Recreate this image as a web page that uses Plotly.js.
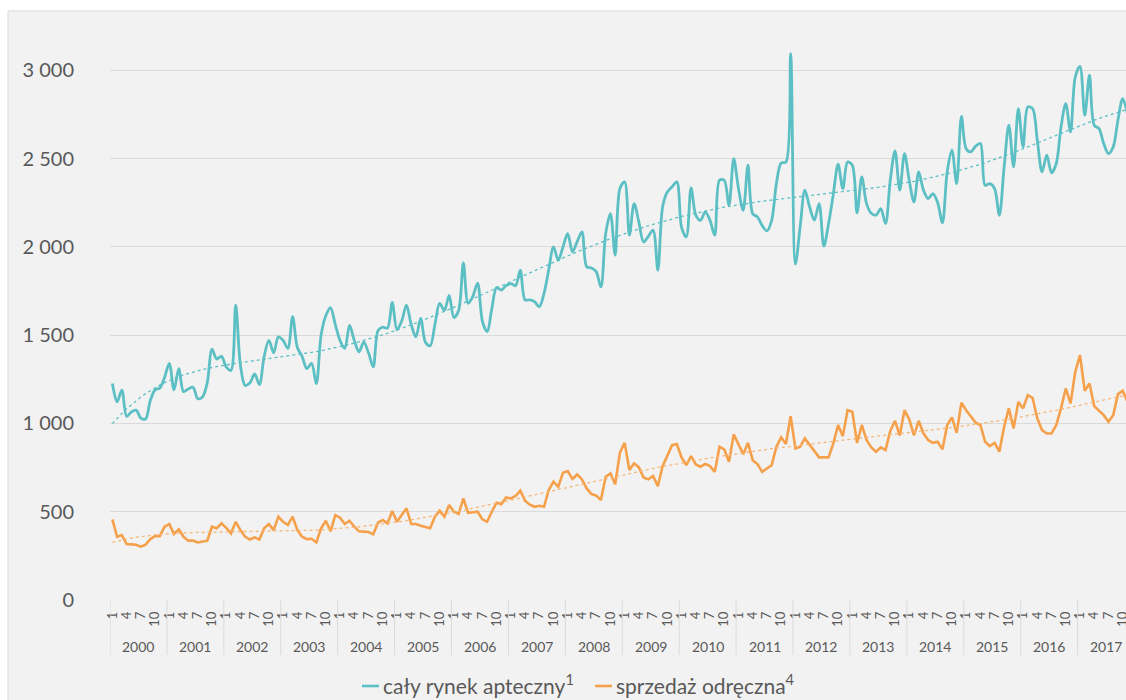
<!DOCTYPE html>
<html>
<head>
<meta charset="utf-8">
<script src="https://cdn.plot.ly/plotly-3.0.1.min.js"></script>
<style>
  html, body { margin: 0; padding: 0; background: #ffffff; overflow: hidden; }
  #chart { width: 1126px; height: 700px; }
</style>
</head>
<body>
<div id="chart"></div>
<script>
// ---------- data ----------
const years = [2000, 2001, 2002, 2003, 2004, 2005, 2006, 2007, 2008,
               2009, 2010, 2011, 2012, 2013, 2014, 2015, 2016, 2017];
const tickMonths = [1, 4, 7, 10];

const seriesNames = ['cały rynek apteczny', 'sprzedaż odręczna'];
const seriesNotes = ['1', '4'];

// cały rynek apteczny (monthly, from Jan 2000)
const caly = [
  1226, 1122, 1189, 1040, 1065, 1075, 1030, 1025, 1130, 1190, 1200, 1260,
  1340, 1190, 1310, 1180, 1195, 1205, 1140, 1150, 1230, 1420, 1365, 1380,
  1320, 1300, 1670, 1330, 1215, 1230, 1280, 1220, 1380, 1470, 1400, 1490,
  1470, 1425, 1605, 1430, 1380, 1310, 1340, 1225, 1500, 1610, 1655, 1560,
  1470, 1425, 1555, 1470, 1405, 1460, 1400, 1320, 1525, 1545, 1540, 1685,
  1530, 1580, 1670, 1560, 1490, 1595, 1460, 1440, 1560, 1680, 1640, 1725,
  1600, 1640, 1909, 1680, 1720, 1795, 1580, 1520, 1650, 1770, 1755, 1780,
  1792, 1780, 1868, 1700, 1700, 1690, 1660, 1736, 1870, 2000, 1924, 2000,
  2075, 1972, 2030, 2085, 1887, 1880, 1860, 1773, 2075, 2188, 1953, 2330,
  2368, 2066, 2245, 2140, 2028, 2060, 2094, 1868, 2226, 2311, 2340, 2368,
  2110, 2056, 2334, 2180, 2150, 2198, 2150, 2066, 2377, 2377, 2236, 2500,
  2330, 2207, 2462, 2188, 2170, 2120, 2090, 2150, 2360, 2475, 2480, 3094,
  1902, 2113, 2321, 2226, 2151, 2245, 2004, 2132, 2300, 2468, 2330, 2481,
  2462, 2192, 2396, 2245, 2190, 2180, 2217, 2132, 2377, 2543, 2321, 2528,
  2377, 2254, 2424, 2321, 2273, 2302, 2250, 2136, 2424, 2547, 2358, 2739,
  2556, 2538, 2570, 2585, 2349, 2358, 2330, 2179, 2450, 2689, 2453, 2783,
  2566, 2792, 2783, 2604, 2424, 2519, 2419, 2472, 2679, 2811, 2651, 2962,
  3022, 2745, 2972, 2689, 2670, 2585, 2528, 2566, 2717, 2840, 2755
];

// sprzedaż odręczna (monthly, from Jan 2000)
const odreczna = [
  457, 358, 368, 317, 315, 313, 302, 313, 345, 362, 362, 415,
  430, 374, 400, 358, 336, 336, 326, 330, 336, 415, 406, 434,
  409, 377, 443, 396, 358, 343, 355, 343, 406, 430, 396, 472,
  443, 425, 472, 396, 358, 345, 347, 326, 406, 449, 389, 481,
  466, 430, 449, 415, 389, 387, 385, 372, 438, 453, 434, 504,
  443, 481, 519, 430, 430, 420, 415, 406, 472, 506, 472, 538,
  500, 487, 575, 494, 497, 500, 457, 443, 500, 551, 543, 581,
  575, 589, 619, 562, 540, 528, 534, 528, 623, 670, 641, 721,
  730, 685, 711, 683, 632, 600, 591, 566, 698, 717, 655, 834,
  890, 736, 774, 751, 694, 683, 702, 645, 758, 815, 877, 883,
  808, 764, 815, 768, 755, 770, 758, 726, 868, 853, 783, 938,
  883, 826, 890, 792, 770, 726, 745, 764, 868, 921, 883, 1041,
  858, 868, 915, 880, 845, 808, 808, 808, 887, 991, 928, 1075,
  1066, 890, 991, 906, 864, 840, 864, 849, 958, 1015, 932, 1075,
  1023, 932, 1015, 943, 906, 890, 896, 853, 991, 1034, 947, 1117,
  1075, 1041, 1004, 991, 896, 872, 890, 840, 981, 1085, 972, 1122,
  1085, 1160, 1145, 1028, 962, 943, 943, 991, 1085, 1198, 1113, 1292,
  1387, 1185, 1226, 1098, 1071, 1047, 1009, 1047, 1166, 1185, 1122
];

// ---------- helpers ----------
const monthIdx = caly.map((_, i) => i);   // months since Jan 2000

// least-squares polynomial trend (like a spreadsheet polynomial trendline)
function polyTrend(xs, ys, deg) {
  const c = (xs[xs.length - 1] + xs[0]) / 2, s = (xs[xs.length - 1] - xs[0]) / 2;
  const t = xs.map(v => (v - c) / s);
  const n = deg + 1;
  const A = Array.from({ length: n }, () => new Array(n + 1).fill(0));
  for (let k = 0; k < t.length; k++) {
    const p = [1];
    for (let j = 1; j < n; j++) p.push(p[j - 1] * t[k]);
    for (let i = 0; i < n; i++) {
      for (let j = 0; j < n; j++) A[i][j] += p[i] * p[j];
      A[i][n] += p[i] * ys[k];
    }
  }
  for (let i = 0; i < n; i++) {
    let m = i;
    for (let r = i + 1; r < n; r++) if (Math.abs(A[r][i]) > Math.abs(A[m][i])) m = r;
    const tmp = A[i]; A[i] = A[m]; A[m] = tmp;
    for (let r = 0; r < n; r++) {
      if (r === i) continue;
      const f = A[r][i] / A[i][i];
      for (let cc = i; cc <= n; cc++) A[r][cc] -= f * A[i][cc];
    }
  }
  const coef = A.map((row, i) => row[n] / row[i]);
  return t.map(tt => coef.reduce((acc, cf, i) => acc + cf * Math.pow(tt, i), 0));
}

const TEAL = '#5cbfc4';
const ORANGE = '#f5a04b';
const TXT = '#595959';
const GRID = '#dadada';
const FONT = 'Lato, "Open Sans", sans-serif';

const traces = [
  { x: monthIdx, y: caly, type: 'scatter', mode: 'lines', name: seriesNames[0],
    line: { color: TEAL, width: 2.8, shape: 'spline', smoothing: 0.9 }, hoverinfo: 'y' },
  { x: monthIdx, y: odreczna, type: 'scatter', mode: 'lines', name: seriesNames[1],
    line: { color: ORANGE, width: 2.6 }, hoverinfo: 'y' },
  { x: monthIdx, y: polyTrend(monthIdx, caly, 6), type: 'scatter', mode: 'lines',
    line: { color: TEAL, width: 1.3, dash: 'dot' }, hoverinfo: 'skip' },
  { x: monthIdx, y: polyTrend(monthIdx, odreczna, 6), type: 'scatter', mode: 'lines',
    line: { color: '#f7b779', width: 1.3, dash: 'dot' }, hoverinfo: 'skip' }
];

// month ticks
const tickvals = [], ticktext = [];
years.forEach((yr, k) => tickMonths.forEach(m => { tickvals.push(k * 12 + m - 1); ticktext.push(String(m)); }));

// layout geometry helpers (pixel -> paper)
const W = 1126, H = 700, ML = 110, MB = 100, PW = W - ML, PH = H - MB;
const px = v => (v - ML) / PW;
const py = v => (PH - v) / PH;

const shapes = [
  { type: 'rect', xref: 'paper', yref: 'paper', x0: px(8), x1: px(1140), y0: py(11), y1: py(720),
    fillcolor: '#f2f2f2', line: { color: '#d9d9d9', width: 1 }, layer: 'below' }
];
years.forEach((yr, k) => {
  shapes.push({ type: 'line', xref: 'x', yref: 'paper', x0: k * 12 - 0.5, x1: k * 12 - 0.5,
    y0: 0, y1: py(655), line: { color: GRID, width: 1 } });
});
// legend keys
shapes.push({ type: 'line', xref: 'paper', yref: 'paper', x0: px(362), x1: px(379), y0: py(686), y1: py(686),
  line: { color: TEAL, width: 2.6 } });
shapes.push({ type: 'line', xref: 'paper', yref: 'paper', x0: px(595), x1: px(612), y0: py(686), y1: py(686),
  line: { color: ORANGE, width: 2.6 } });

const annotations = years.map((yr, k) => ({
  x: k * 12 + 5.5, xref: 'x', y: py(646), yref: 'paper', text: String(yr), showarrow: false,
  xanchor: 'center', yanchor: 'middle', font: { family: FONT, size: 14, color: TXT }
}));
annotations.push({ x: px(381), xref: 'paper', y: py(684), yref: 'paper', xanchor: 'left', yanchor: 'middle',
  showarrow: false, text: seriesNames[0] + '<sup>' + seriesNotes[0] + '</sup>',
  font: { family: FONT, size: 21, color: TXT } });
annotations.push({ x: px(614), xref: 'paper', y: py(684), yref: 'paper', xanchor: 'left', yanchor: 'middle',
  showarrow: false, text: seriesNames[1] + '<sup>' + seriesNotes[1] + '</sup>',
  font: { family: FONT, size: 21, color: TXT } });

const layout = {
  width: W, height: H,
  margin: { l: ML, r: 0, t: 0, b: MB, pad: 0 },
  paper_bgcolor: '#ffffff',
  plot_bgcolor: 'rgba(0,0,0,0)',
  showlegend: false,
  separators: ', ',
  font: { family: FONT, color: TXT },
  xaxis: {
    range: [-0.5, 213.7], tickmode: 'array', tickvals: tickvals, ticktext: ticktext,
    tickangle: -90, ticks: '', showgrid: false, zeroline: false, showline: false,
    ticklabeloverflow: 'allow',
    tickfont: { family: FONT, size: 13, color: TXT }, ticklabelstandoff: 8, fixedrange: true
  },
  yaxis: {
    range: [0, 3398], dtick: 500, tick0: 0, separatethousands: true, tickformat: ',d',
    gridcolor: GRID, gridwidth: 1, zeroline: false, showline: false, ticks: '',
    tickfont: { family: FONT, size: 20, color: TXT }, ticklabelstandoff: 35, fixedrange: true
  },
  shapes: shapes,
  annotations: annotations
};

Plotly.newPlot('chart', traces, layout, { displayModeBar: false, staticPlot: true });
</script>
</body>
</html>
